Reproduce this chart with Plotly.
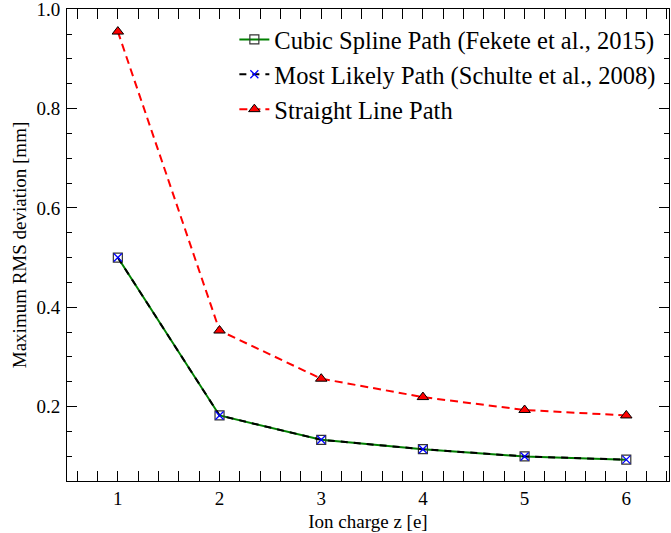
import plotly.graph_objects as go

# Data
charge = [1, 2, 3, 4, 5, 6]
cubic_spline = [0.500, 0.182, 0.133, 0.114, 0.0995, 0.093]
most_likely = [0.500, 0.182, 0.133, 0.114, 0.0995, 0.093]
straight_line = [0.955, 0.353, 0.256, 0.219, 0.193, 0.182]

names = [
    "Cubic Spline Path (Fekete et al., 2015)",
    "Most Likely Path (Schulte et al., 2008)",
    "Straight Line Path",
]
x_ticks = [1, 2, 3, 4, 5, 6]
y_ticks = [0.2, 0.4, 0.6, 0.8, 1.0]
y_tick_labels = ["0.2", "0.4", "0.6", "0.8", "1.0"]
x_range = [0.5, 6.42]
y_range = [0.05, 1.0005]

FONT = "'Liberation Serif', 'Times New Roman', Times, serif"

fig = go.Figure()
fig.add_trace(go.Scatter(
    x=charge, y=cubic_spline, name=names[0], mode="lines+markers",
    line=dict(color="green", width=2),
    marker=dict(symbol="square-open", size=9, color="#333333", line=dict(width=1.2)),
))
fig.add_trace(go.Scatter(
    x=charge, y=most_likely, name=names[1], mode="lines+markers",
    line=dict(color="black", width=2, dash="7px,6px"),
    marker=dict(symbol="x-thin-open", size=8, color="blue", line=dict(width=1.3, color="blue")),
))
# Same y-range as the primary axis; y2 only carries the tick labels / title.
fig.add_trace(go.Scatter(
    x=charge, y=straight_line, name=names[2], mode="lines+markers", yaxis="y2",
    line=dict(color="red", width=2, dash="8px,5px"),
    marker=dict(symbol="triangle-up", size=10, color="red", line=dict(width=1, color="black")),
))

tickfont = dict(family=FONT, size=19, color="black")
axis_common = dict(
    showline=True, linecolor="black", linewidth=1, mirror="allticks",
    ticks="inside", ticklen=10, tickwidth=1, tickcolor="black",
    showgrid=False, zeroline=False, ticklabeloverflow="allow",
    tickfont=tickfont,
)

fig.update_xaxes(
    range=x_range, tickvals=x_ticks,
    minor=dict(ticks="inside", ticklen=5, tickwidth=1, tickcolor="black", dtick=0.2, tick0=0, showgrid=False),
    title=dict(text="Ion charge z [e]", font=dict(family=FONT, size=19, color="black"), standoff=6),
    **axis_common,
)
fig.update_yaxes(
    range=y_range, tickvals=y_ticks, showticklabels=False,
    minor=dict(ticks="inside", ticklen=5, tickwidth=1, tickcolor="black", dtick=0.05, tick0=0, showgrid=False),
    **axis_common,
)

fig.update_layout(
    width=671, height=533,
    margin=dict(l=67, r=2, t=9, b=52, autoexpand=False),
    plot_bgcolor="white", paper_bgcolor="white",
    font=dict(family=FONT, color="black"),
    yaxis2=dict(
        overlaying="y", side="left", range=y_range,
        tickvals=y_ticks, ticktext=y_tick_labels,
        ticks="outside", ticklen=0, ticklabelstandoff=2,
        showline=False, showgrid=False, zeroline=False,
        ticklabeloverflow="allow", tickfont=tickfont,
        title=dict(text="Maximum RMS deviation [mm]", font=dict(family=FONT, size=19, color="black"), standoff=4),
    ),
    legend=dict(
        x=0.278, y=0.983, xanchor="left", yanchor="top",
        bgcolor="rgba(0,0,0,0)", borderwidth=0,
        font=dict(family=FONT, size=24.5, color="black"),
    ),
)

fig.write_html("out.html", config={"displayModeBar": False},
               post_script="document.body.style.margin='0';")
